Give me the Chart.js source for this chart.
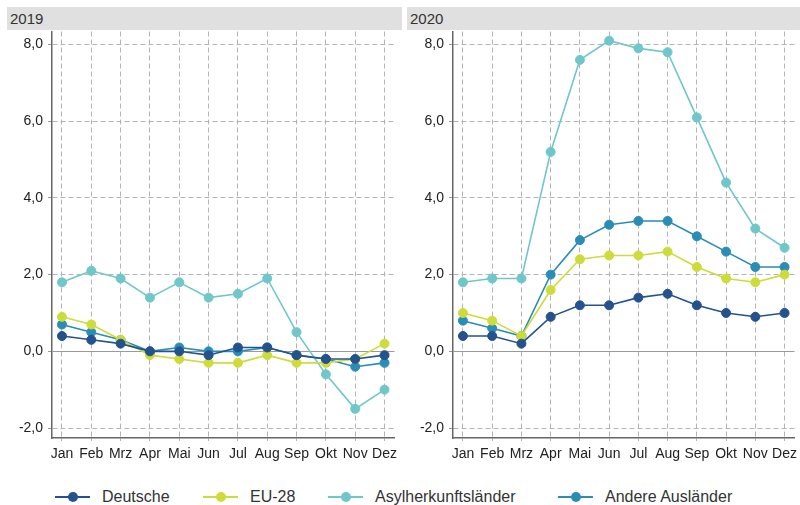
<!DOCTYPE html>
<html>
<head>
<meta charset="utf-8">
<script src="https://cdn.jsdelivr.net/npm/chart.js@4"></script>
<style>
    body { margin: 0; width: 800px; height: 505px; background: #fff; font-family: "Liberation Sans", Arial, sans-serif; color: #333; position: relative; overflow: hidden; }
    .panelHead { position: absolute; top: 7px; height: 23px; background: #e0e0e0; font-size: 15px; line-height: 23px; padding-left: 3px; box-sizing: border-box; }
    .box { position: absolute; top: 26px; width: 400px; height: 439px; }
    .legend { position: absolute; top: 486px; height: 22px; font-size: 16px; line-height: 22px; }
    .legend .item { position: absolute; white-space: nowrap; }
    .legend .mark { position: absolute; left: 0; top: 10px; width: 35px; height: 2px; }
    .legend .mark::after { content: ''; position: absolute; left: 13px; top: -4px; width: 10px; height: 10px; border-radius: 50%; background: inherit; }
    .legend .txt { position: absolute; left: 47px; top: 0; }
</style>
</head>
<body>
<div class="panelHead" style="left:7px; width:395px;">2019</div>
<div class="panelHead" style="left:407px; width:393px;">2020</div>
<div class="box" style="left:0;"><canvas id="chart2019"></canvas></div>
<div class="box" style="left:400px;"><canvas id="chart2020"></canvas></div>
<div class="legend" id="legend"></div>

<script>
const months = ['Jan', 'Feb', 'Mrz', 'Apr', 'Mai', 'Jun', 'Jul', 'Aug', 'Sep', 'Okt', 'Nov', 'Dez'];
const yTickValues = [-2, 0, 2, 4, 6, 8];
const seriesNames = ['Deutsche', 'EU-28', 'Asylherkunftsländer', 'Andere Ausländer'];
const seriesColors = ['#23528e', '#cddc3a', '#6fc7c9', '#2a8db6'];

const deutsche2019 = [0.4, 0.3, 0.2, 0.0, 0.0, -0.1, 0.1, 0.1, -0.1, -0.2, -0.2, -0.1];
const eu2019 = [0.9, 0.7, 0.3, -0.1, -0.2, -0.3, -0.3, -0.1, -0.3, -0.3, -0.2, 0.2];
const asyl2019 = [1.8, 2.1, 1.9, 1.4, 1.8, 1.4, 1.5, 1.9, 0.5, -0.6, -1.5, -1.0];
const andere2019 = [0.7, 0.5, 0.3, 0.0, 0.1, 0.0, 0.0, 0.1, -0.1, -0.2, -0.4, -0.3];

const deutsche2020 = [0.4, 0.4, 0.2, 0.9, 1.2, 1.2, 1.4, 1.5, 1.2, 1.0, 0.9, 1.0];
const eu2020 = [1.0, 0.8, 0.4, 1.6, 2.4, 2.5, 2.5, 2.6, 2.2, 1.9, 1.8, 2.0];
const asyl2020 = [1.8, 1.9, 1.9, 5.2, 7.6, 8.1, 7.9, 7.8, 6.1, 4.4, 3.2, 2.7];
const andere2020 = [0.8, 0.6, 0.4, 2.0, 2.9, 3.3, 3.4, 3.4, 3.0, 2.6, 2.2, 2.2];

const legendPositions = [55, 203, 328, 558];

function buildLegend() {
    const legend = document.getElementById('legend');
    seriesNames.forEach((name, i) => {
        const item = document.createElement('div');
        item.className = 'item';
        item.style.left = legendPositions[i] + 'px';
        item.innerHTML = `<span class="mark" style="background:${seriesColors[i]}"></span><span class="txt">${name}</span>`;
        legend.appendChild(item);
    });
}

function makeChart(canvasId, seriesData, axisWidth, rightPad) {
    const datasets = seriesData.map((values, i) => ({
        label: seriesNames[i],
        data: values.map((v, idx) => ({ x: idx, y: v })),
        borderColor: seriesColors[i],
        backgroundColor: seriesColors[i],
        borderWidth: 1.6,
        pointRadius: 4.5,
        pointBorderWidth: 1,
        pointHoverRadius: 4.5,
        fill: false,
        tension: 0
    }));

    return new Chart(document.getElementById(canvasId), {
        type: 'line',
        data: { datasets },
        options: {
            responsive: true,
            maintainAspectRatio: false,
            animation: false,
            layout: { padding: { left: 0, right: rightPad, top: 0, bottom: 0 } },
            plugins: { legend: { display: false }, tooltip: { enabled: false } },
            scales: {
                x: {
                    type: 'linear',
                    min: -0.34,
                    max: 11.34,
                    afterBuildTicks: scale => { scale.ticks = months.map((m, i) => ({ value: i })); },
                    afterFit: scale => { scale.height = 27; scale.paddingLeft = 0; scale.paddingRight = 0; },
                    ticks: {
                        autoSkip: false,
                        maxRotation: 0,
                        padding: 5,
                        color: '#222',
                        font: { family: '"Liberation Sans", Arial, sans-serif', size: 14 },
                        callback: value => months[value]
                    },
                    grid: { color: '#b4b4b4', lineWidth: 1, tickLength: 3, tickColor: '#b4b4b4' },
                    border: { display: true, color: '#666', width: 1.5, dash: [5, 3] }
                },
                y: {
                    min: -2.26,
                    max: 8.34,
                    afterBuildTicks: scale => { scale.ticks = yTickValues.map(v => ({ value: v })); },
                    afterFit: scale => { scale.width = axisWidth; scale.paddingTop = 0; scale.paddingBottom = 0; },
                    ticks: {
                        padding: 5,
                        color: '#222',
                        font: { family: '"Liberation Sans", Arial, sans-serif', size: 14 },
                        callback: value => value.toFixed(1).replace('.', ',')
                    },
                    grid: {
                        color: ctx => (ctx.tick && ctx.tick.value === 0 ? '#9a9a9a' : '#b4b4b4'),
                        lineWidth: 1,
                        tickLength: 4,
                        tickColor: '#999'
                    },
                    border: {
                        display: true,
                        color: '#666',
                        width: 1.5,
                        dash: ctx => (ctx.tick && ctx.tick.value === 0 ? [] : [5, 3])
                    }
                }
            }
        }
    });
}

buildLegend();
makeChart('chart2019', [deutsche2019, eu2019, asyl2019, andere2019], 52, 5);
makeChart('chart2020', [deutsche2020, eu2020, asyl2020, andere2020], 53, 3);
</script>
</body>
</html>
